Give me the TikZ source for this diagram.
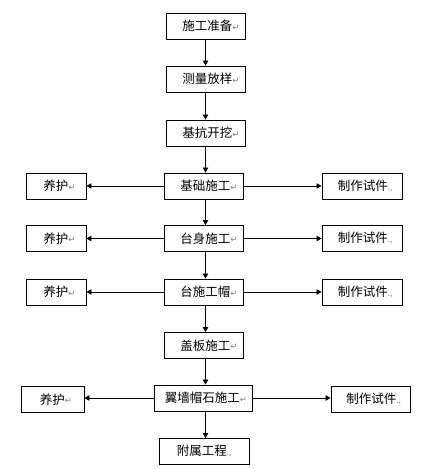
\documentclass[tikz,border=0pt]{standalone}
\usepackage{fontspec}
\setmainfont{Liberation Sans}
\newfontfamily\cjk{Noto Sans CJK SC}
\newfontfamily\symf{DejaVu Sans}
\usetikzlibrary{arrows.meta}
\newcommand{\retmark}{{\symf\fontsize{8.5}{8.5}\selectfont\color{gray}\raisebox{0.3pt}{↵}}}
\newcommand{\dotmark}{{\fontsize{8}{8}\selectfont\color{gray}.,}}
\begin{document}
\begin{tikzpicture}[x=1pt,y=-1pt,
  box/.style={draw=black,line width=0.9pt,fill=white,minimum height=26pt,inner sep=0pt,font=\cjk\fontsize{12.5}{12.5}\selectfont},
  sh/.style={execute at begin node={\hspace{#1pt}}},
  arr/.style={line width=0.8pt,-{Triangle[length=5pt,width=5.5pt]}}]
\fill[white] (0,0) rectangle (438,469);
\useasboundingbox (0,0) rectangle (438,469);
\node[box,sh=10,minimum width=79pt] (n1) at (206,26) {施工准备\retmark};
\node[box,sh=10,minimum width=79pt] (n2) at (206,79) {测量放样\retmark};
\node[box,sh=10,minimum width=79pt] (n3) at (206,133) {基抗开挖\retmark};
\node[box,sh=10,minimum width=79pt] (n4) at (204,186) {基础施工\retmark};
\node[box,sh=10,minimum width=79pt] (n5) at (204,238.5) {台身施工\retmark};
\node[box,sh=10,minimum width=79pt] (n6) at (204,292) {台施工帽\retmark};
\node[box,sh=10,minimum width=79pt] (n7) at (204,345.5) {盖板施工\retmark};
\node[box,sh=6,minimum width=98pt] (n8) at (203,398) {翼墙帽石施工\retmark};
\node[box,minimum width=90pt] (n9) at (204,451.5) {附属工程\dotmark};
\node[box,sh=7,minimum width=60pt] (y1) at (56,186) {养护\retmark};
\node[box,sh=7,minimum width=60pt] (y2) at (56,238.5) {养护\retmark};
\node[box,sh=7,minimum width=60pt] (y3) at (56,292) {养护\retmark};
\node[box,sh=7,minimum width=63pt] (y4) at (52.5,399.5) {养护\retmark};
\node[box,sh=6,minimum width=80pt] (z1) at (362,186) {制作试件\dotmark};
\node[box,sh=6,minimum width=80pt] (z2) at (362,238.5) {制作试件\dotmark};
\node[box,sh=6,minimum width=80pt] (z3) at (362,292) {制作试件\dotmark};
\node[box,sh=6,minimum width=79pt] (z4) at (370.5,399.5) {制作试件\dotmark};
\coordinate (t1) at (205.5,0);
\draw[arr] (n1.south -| t1) -- (n2.north -| t1);
\draw[arr] (n2.south -| t1) -- (n3.north -| t1);
\draw[arr] (n3.south -| t1) -- (n4.north -| t1);
\draw[arr] (n4.south -| t1) -- (n5.north -| t1);
\draw[arr] (n5.south -| t1) -- (n6.north -| t1);
\draw[arr] (n6.south -| t1) -- (n7.north -| t1);
\draw[arr] (n7.south -| t1) -- (n8.north -| t1);
\draw[arr] (n8.south -| t1) -- (n9.north -| t1);
\draw[arr] (n4.west) -- (y1.east);
\draw[arr] (n5.west) -- (y2.east);
\draw[arr] (n6.west) -- (y3.east);
\draw[arr] (n8.west) -- (y4.east |- n8.west);
\draw[arr] (n4.east) -- (z1.west);
\draw[arr] (n5.east) -- (z2.west);
\draw[arr] (n6.east) -- (z3.west);
\draw[arr] (n8.east) -- (z4.west |- n8.east);
\end{tikzpicture}
\end{document}
